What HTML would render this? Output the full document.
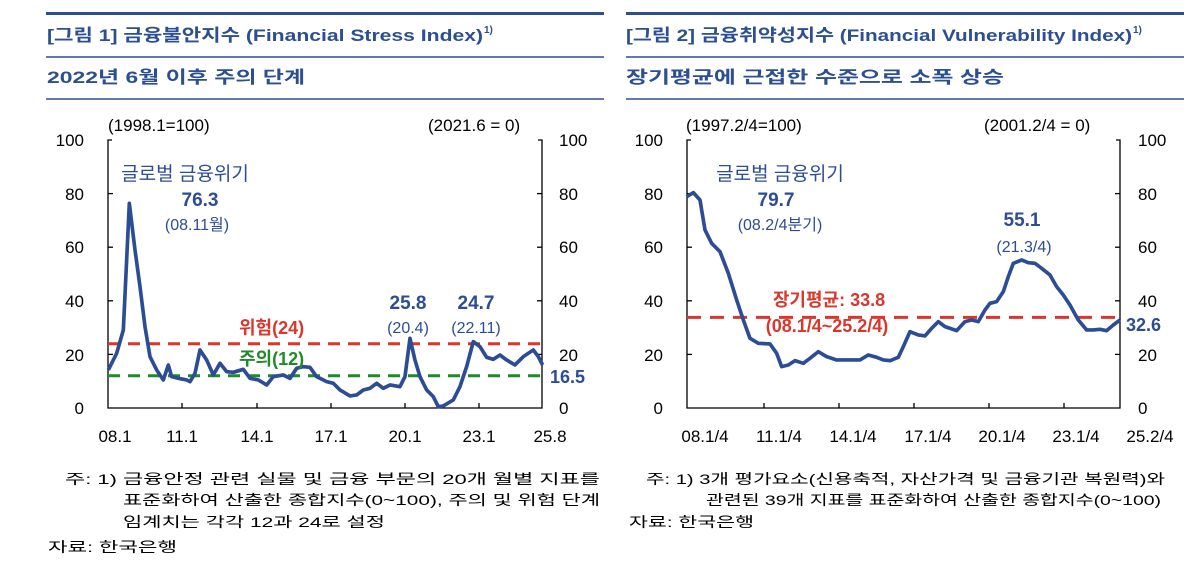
<!DOCTYPE html>
<html><head><meta charset="utf-8"><style>
html,body{margin:0;padding:0;background:#fff;}
svg{display:block;}
text{font-family:"Liberation Sans","Noto Sans CJK KR",sans-serif;}
</style></head><body>
<svg width="1200" height="567" viewBox="0 0 1200 567" xmlns="http://www.w3.org/2000/svg">
<g stroke="#2b4f91">
<line x1="46" y1="13.5" x2="604" y2="13.5" stroke-width="3"/>
<line x1="46" y1="57" x2="604" y2="57" stroke-width="1.5"/>
<line x1="46" y1="99" x2="604" y2="99" stroke-width="1.5"/>
<line x1="626" y1="13.5" x2="1184" y2="13.5" stroke-width="3"/>
<line x1="626" y1="57" x2="1184" y2="57" stroke-width="1.5"/>
<line x1="626" y1="99" x2="1184" y2="99" stroke-width="1.5"/>
</g>
<g fill="#2b4f91" font-weight="bold" font-size="17">
<text x="47" y="41" textLength="436" lengthAdjust="spacingAndGlyphs">[그림 1] 금융불안지수 (Financial Stress Index)</text>
<text x="484" y="33" font-size="10">1)</text>
<text x="47" y="83" textLength="258" lengthAdjust="spacingAndGlyphs">2022년 6월 이후 주의 단계</text>
<text x="626" y="41" textLength="506" lengthAdjust="spacingAndGlyphs">[그림 2] 금융취약성지수 (Financial Vulnerability Index)</text>
<text x="1133" y="33" font-size="10">1)</text>
<text x="626" y="83" textLength="378" lengthAdjust="spacingAndGlyphs">장기평균에 근접한 수준으로 소폭 상승</text>
</g>

<g stroke="#000" stroke-width="1.3" fill="none">
<polyline points="112,140 108,140 108,408 542,408 542,140 538,140"/>
<line x1="108" y1="193.6" x2="113" y2="193.6"/><line x1="108" y1="247.2" x2="113" y2="247.2"/><line x1="108" y1="300.8" x2="113" y2="300.8"/><line x1="108" y1="354.4" x2="113" y2="354.4"/>
<line x1="542" y1="193.6" x2="537" y2="193.6"/><line x1="542" y1="247.2" x2="537" y2="247.2"/><line x1="542" y1="300.8" x2="537" y2="300.8"/><line x1="542" y1="354.4" x2="537" y2="354.4"/>
<line x1="182" y1="408" x2="182" y2="403"/><line x1="257" y1="408" x2="257" y2="403"/><line x1="331" y1="408" x2="331" y2="403"/><line x1="405" y1="408" x2="405" y2="403"/><line x1="479" y1="408" x2="479" y2="403"/>
</g>
<g font-size="17" fill="#000">
<g text-anchor="end"><text x="84" y="146">100</text><text x="84" y="200">80</text><text x="84" y="253">60</text><text x="84" y="307">40</text><text x="84" y="361">20</text><text x="84" y="414">0</text></g>
<text x="559" y="146">100</text><text x="559" y="200">80</text><text x="559" y="253">60</text><text x="559" y="307">40</text><text x="559" y="361">20</text><text x="559" y="414">0</text>
<g text-anchor="middle"><text x="115" y="442">08.1</text><text x="182" y="442">11.1</text><text x="257" y="442">14.1</text><text x="331" y="442">17.1</text><text x="405" y="442">20.1</text><text x="479" y="442">23.1</text><text x="550" y="442">25.8</text></g>
<text x="108" y="131">(1998.1=100)</text><text x="428" y="131">(2021.6 = 0)</text>
</g>
<line x1="108" y1="343.7" x2="542" y2="343.7" stroke="#d9372c" stroke-width="3" stroke-dasharray="12,8"/>
<line x1="108" y1="375.8" x2="542" y2="375.8" stroke="#1f8a2a" stroke-width="3" stroke-dasharray="12,8"/>
<g transform="translate(100,120) scale(0.3333)">
<polyline fill="none" stroke="#2c4c94" stroke-width="11" stroke-linejoin="round" points="25,750 50,700 70,630 88,250 105,390 120,500 135,620 150,710 170,750 190,780 205,735 215,770 235,775 260,780 270,785 285,760 300,690 320,720 340,765 360,730 380,755 400,757 430,748 450,775 475,780 500,795 520,770 550,765 570,775 590,745 610,740 630,742 650,770 680,785 700,790 720,810 750,828 770,825 790,810 810,805 830,790 850,805 870,795 900,800 915,770 930,655 945,720 960,770 980,810 1000,830 1015,860 1030,858 1060,840 1080,800 1100,740 1120,665 1140,680 1160,712 1180,718 1200,705 1220,720 1245,735 1270,710 1300,690 1315,710 1328,735"/>
</g>
<g fill="#2c4c94" font-size="19" text-anchor="middle">
<text x="185" y="180">글로벌 금융위기</text>
<text x="200" y="206" font-weight="bold">76.3</text>
<text x="197" y="230" font-size="16">(08.11월)</text>
<text x="408" y="309" font-weight="bold">25.8</text>
<text x="408" y="333" font-size="16">(20.4)</text>
<text x="476" y="309" font-weight="bold">24.7</text>
<text x="476" y="333" font-size="16">(22.11)</text>
<text x="550" y="383" font-weight="bold" text-anchor="start" font-size="18">16.5</text>
</g>
<text x="239" y="334" fill="#d9372c" font-size="18" font-weight="bold">위험(24)</text>
<text x="239" y="365" fill="#1f8a2a" font-size="18" font-weight="bold">주의(12)</text>

<g stroke="#000" stroke-width="1.3" fill="none">
<polyline points="691,140 687,140 687,408 1120,408 1120,140 1116,140"/>
<line x1="687" y1="193.6" x2="692" y2="193.6"/><line x1="687" y1="247.2" x2="692" y2="247.2"/><line x1="687" y1="300.8" x2="692" y2="300.8"/><line x1="687" y1="354.4" x2="692" y2="354.4"/>
<line x1="1120" y1="193.6" x2="1115" y2="193.6"/><line x1="1120" y1="247.2" x2="1115" y2="247.2"/><line x1="1120" y1="300.8" x2="1115" y2="300.8"/><line x1="1120" y1="354.4" x2="1115" y2="354.4"/>
<line x1="764" y1="408" x2="764" y2="403"/><line x1="839" y1="408" x2="839" y2="403"/><line x1="914" y1="408" x2="914" y2="403"/><line x1="989" y1="408" x2="989" y2="403"/><line x1="1064" y1="408" x2="1064" y2="403"/>
</g>
<g font-size="17" fill="#000">
<g text-anchor="end"><text x="663" y="146">100</text><text x="663" y="200">80</text><text x="663" y="253">60</text><text x="663" y="307">40</text><text x="663" y="361">20</text><text x="663" y="414">0</text></g>
<text x="1138" y="146">100</text><text x="1138" y="200">80</text><text x="1138" y="253">60</text><text x="1138" y="307">40</text><text x="1138" y="361">20</text><text x="1138" y="414">0</text>
<g text-anchor="middle"><text x="705" y="442">08.1/4</text><text x="779" y="442">11.1/4</text><text x="853" y="442">14.1/4</text><text x="928" y="442">17.1/4</text><text x="1002" y="442">20.1/4</text><text x="1076" y="442">23.1/4</text><text x="1150" y="442">25.2/4</text></g>
<text x="686" y="131">(1997.2/4=100)</text><text x="984" y="131">(2001.2/4 = 0)</text>
</g>
<line x1="687" y1="317.4" x2="1120" y2="317.4" stroke="#d9372c" stroke-width="3" stroke-dasharray="14,9"/>
<g transform="translate(670,120) scale(0.3333)">
<polyline fill="none" stroke="#2c4c94" stroke-width="11" stroke-linejoin="round" points="50,230 70,218 90,240 105,330 125,370 150,395 175,460 200,540 220,600 240,655 265,670 300,672 320,700 335,740 355,735 375,722 400,730 420,715 445,695 470,710 500,720 530,720 570,720 595,705 620,712 640,720 660,722 685,712 700,680 720,635 745,645 765,648 785,625 805,605 825,620 860,632 885,605 905,600 925,605 945,570 960,550 980,545 1000,515 1015,470 1030,430 1055,420 1075,428 1095,430 1115,445 1140,465 1160,500 1180,525 1200,555 1225,600 1250,630 1270,630 1290,628 1310,632 1330,615 1350,600"/>
</g>
<g fill="#2c4c94" font-size="19" text-anchor="middle">
<text x="780" y="180">글로벌 금융위기</text>
<text x="776" y="206" font-weight="bold">79.7</text>
<text x="780" y="230" font-size="16">(08.2/4분기)</text>
<text x="1022" y="226" font-weight="bold">55.1</text>
<text x="1024" y="252" font-size="16">(21.3/4)</text>
<text x="1126" y="331" font-weight="bold" text-anchor="start" font-size="18">32.6</text>
</g>
<g fill="#d9372c" font-size="18" font-weight="bold" text-anchor="middle">
<text x="829" y="306">장기평균: 33.8</text>
<text x="827" y="332">(08.1/4~25.2/4)</text>
</g>

<g font-size="14" fill="#000">
<text x="65" y="484" textLength="535" lengthAdjust="spacingAndGlyphs">주: 1) 금융안정 관련 실물 및 금융 부문의 20개 월별 지표를</text>
<text x="123" y="505" textLength="477" lengthAdjust="spacingAndGlyphs">표준화하여 산출한 종합지수(0~100), 주의 및 위험 단계</text>
<text x="123" y="527" textLength="262" lengthAdjust="spacingAndGlyphs">임계치는 각각 12과 24로 설정</text>
<text x="48" y="552" textLength="129" lengthAdjust="spacingAndGlyphs">자료: 한국은행</text>
<text x="646" y="484" textLength="519" lengthAdjust="spacingAndGlyphs">주: 1) 3개 평가요소(신용축적, 자산가격 및 금융기관 복원력)와</text>
<text x="706" y="505" textLength="455" lengthAdjust="spacingAndGlyphs">관련된 39개 지표를 표준화하여 산출한 종합지수(0~100)</text>
<text x="629" y="527" textLength="125" lengthAdjust="spacingAndGlyphs">자료: 한국은행</text>
</g>
</svg>
</body></html>
